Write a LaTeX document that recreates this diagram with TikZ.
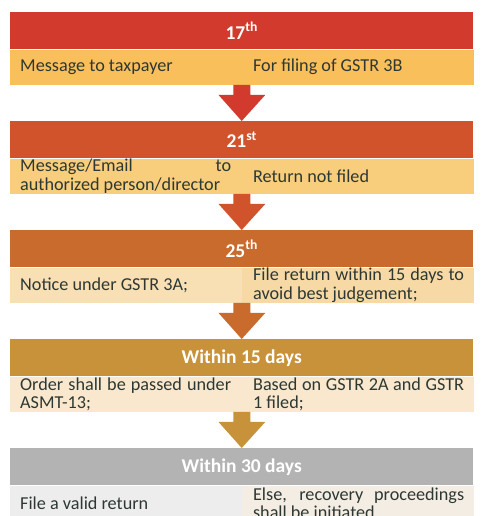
\documentclass[tikz,border=0pt]{standalone}
\usepackage{fontspec}
\setmainfont{Carlito}
\usetikzlibrary{positioning, calc}

\definecolor{hdrA}{HTML}{D13A2D}
\definecolor{hdrB}{HTML}{D0532B}
\definecolor{hdrC}{HTML}{C96B2D}
\definecolor{hdrD}{HTML}{C8923B}
\definecolor{hdrE}{HTML}{B3B3B3}
\definecolor{celA}{HTML}{F9BF5B}
\definecolor{celB}{HTML}{F8CD7B}
\definecolor{celCl}{HTML}{F9DFB4}
\definecolor{celCr}{HTML}{F7D9A6}
\definecolor{celD}{HTML}{F9E8CD}
\definecolor{celEl}{HTML}{EDEDED}
\definecolor{celEr}{HTML}{F4EDE4}
\definecolor{inkgray}{HTML}{2E3833}

\hyphenpenalty=10000
\exhyphenpenalty=10000
\tolerance=9999

\tikzset{
  hdr/.style={fill=#1, minimum width=463, minimum height=37, inner sep=0,
    anchor=north west, text=white, font=\fontsize{19.5}{21}\selectfont\bfseries},
  cell/.style={fill=#1, minimum width=231.5, minimum height=35, inner sep=0,
    anchor=north west},
  txt/.style={text width=211, align=justify, inner sep=0, anchor=west,
    text=inkgray, font=\fontsize{18.2}{18.5}\selectfont},
  pointer/.style={fill=#1}
}

\begin{document}
\begin{tikzpicture}[x=1pt, y=-1pt]
    % page
    \useasboundingbox (0,0) rectangle (484,516);

    % Headers
    \node[hdr=hdrA] (h1) at (10, 12) {17\textsuperscript{th}};
    \node[hdr=hdrB] (h2) at (10, 121) {21\textsuperscript{st}};
    \node[hdr=hdrC] (h3) at (10, 230) {25\textsuperscript{th}};
    \node[hdr=hdrD] (h4) at (10, 339) {Within 15 days};
    \node[hdr=hdrE] (h5) at (10, 448) {Within 30 days};

    % Cells
    \node[cell=celA] (l1) at (h1.south west) {};
    \node[cell=celA] (r1) at (l1.north east) {};
    \node[cell=celB] (l2) at (h2.south west) {};
    \node[cell=celB] (r2) at (l2.north east) {};
    \node[cell=celCl] (l3) at (h3.south west) {};
    \node[cell=celCr] (r3) at (l3.north east) {};
    \node[cell=celD] (l4) at (h4.south west) {};
    \node[cell=celD] (r4) at (l4.north east) {};
    \node[cell=celEl] (l5) at (h5.south west) {};
    \node[cell=celEr] (r5) at (l5.north east) {};

    % Texts
    \node[txt] (t2l) at ([xshift=10]l2.west) {Message/Email to authorized person/director};
    \node[txt] (t1l) at ([xshift=10]l1.west) {Message to taxpayer};
    \node[txt] (t1r) at ([xshift=11]r1.west) {For filing of GSTR 3B};
    \node[txt] (t2r) at ([xshift=11]r2.west) {Return not filed};
    \node[txt] (t3l) at ([xshift=10]l3.west) {Notice under GSTR 3A;};
    \node[txt] (t3r) at ([xshift=11]r3.west) {File return within 15 days to avoid best judgement;};
    \node[txt] (t4l) at ([xshift=10]l4.west) {Order shall be passed under ASMT-13;};
    \node[txt] (t4r) at ([xshift=11]r4.west) {Based on GSTR 2A and GSTR 1 filed;};
    \node[txt] (t5l) at ([xshift=10]l5.west) {File a valid return};
    \node[txt] (t5r) at ([xshift=11]r5.west) {Else, recovery proceedings shall be initiated};

    % Arrows
\foreach \a/\b/\c in {1/2/hdrA, 2/3/hdrB, 3/4/hdrC, 4/5/hdrD}
  \fill[pointer=\c] ([xshift=-8.5]l\a.south east) -- ++(0,10) -- ++(-15,0)
    -- (h\b.north) -- ($(l\a.south east)+(23.5,10)$) -- ++(-15,0)
    -- ([xshift=8.5]l\a.south east) -- cycle;

  \end{tikzpicture}
\end{document}
